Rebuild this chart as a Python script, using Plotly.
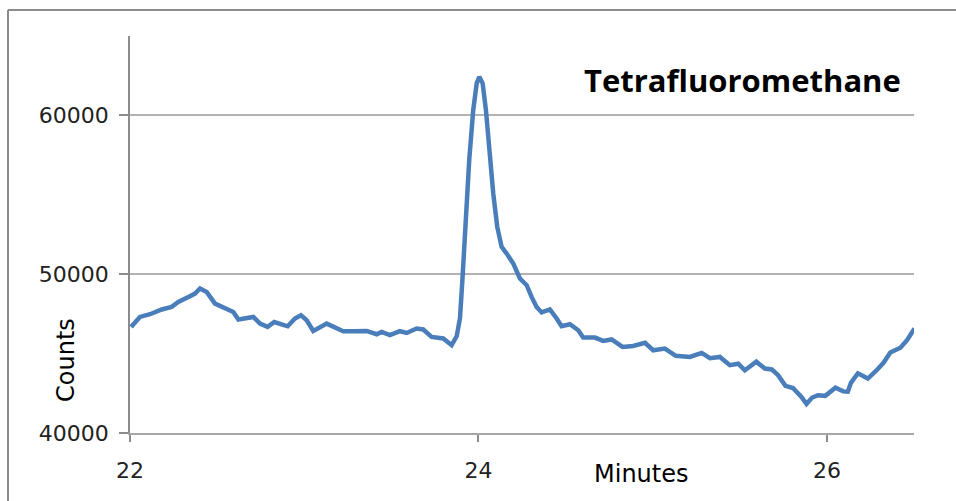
import plotly.graph_objects as go

minutes = [22.006, 22.057, 22.115, 22.182, 22.239, 22.277, 22.344, 22.373, 22.402, 22.440,
           22.488, 22.545, 22.593, 22.622, 22.708, 22.746, 22.790, 22.828, 22.905, 22.947,
           22.981, 23.014, 23.052, 23.129, 23.167, 23.224, 23.281, 23.358, 23.416, 23.444,
           23.492, 23.549, 23.588, 23.645, 23.683, 23.731, 23.798, 23.846, 23.875, 23.894,
           23.909, 23.928, 23.947, 23.970, 23.990, 24.005, 24.024, 24.043, 24.062, 24.085,
           24.108, 24.133, 24.162, 24.200, 24.238, 24.277, 24.305, 24.334, 24.363, 24.410,
           24.449, 24.477, 24.525, 24.573, 24.601, 24.669, 24.716, 24.764, 24.827, 24.888,
           24.956, 25.003, 25.070, 25.133, 25.214, 25.281, 25.329, 25.386, 25.443, 25.491,
           25.529, 25.595, 25.644, 25.684, 25.720, 25.762, 25.805, 25.854, 25.883, 25.914,
           25.948, 25.991, 26.049, 26.094, 26.120, 26.138, 26.178, 26.235, 26.283, 26.325,
           26.364, 26.422, 26.460, 26.503]

counts = [46680, 47310, 47480, 47780, 47940, 48250, 48610, 48780, 49100, 48880,
          48150, 47900, 47620, 47150, 47310, 46890, 46680, 46990, 46720, 47210,
          47420, 47100, 46430, 46890, 46680, 46410, 46410, 46430, 46220, 46360,
          46160, 46410, 46300, 46580, 46520, 46050, 45950, 45530, 46090, 47230,
          49830, 54030, 57180, 60330, 62020, 62430, 62020, 60330, 57810, 55080,
          52980, 51720, 51300, 50670, 49730, 49310, 48570, 47940, 47590, 47780,
          47210, 46720, 46850, 46470, 46010, 46010, 45800, 45890, 45420, 45480,
          45680, 45210, 45320, 44860, 44790, 45040, 44710, 44790, 44270, 44360,
          43950, 44490, 44060, 44000, 43640, 42970, 42830, 42270, 41830, 42220,
          42380, 42340, 42850, 42620, 42600, 43160, 43760, 43430, 43920, 44420,
          45070, 45370, 45840, 46580]

x_ticks = [22, 24, 26]
y_ticks = [40000, 50000, 60000]
title_text = "Tetrafluoromethane"
x_label = "Minutes"
y_label = "Counts"

fig = go.Figure()
fig.add_trace(go.Scatter(
    x=minutes, y=counts, mode="lines",
    line=dict(color="#4A7EBB", width=4.5, shape="linear"),
    hoverinfo="skip", showlegend=False,
))

frame_line = dict(color="#8c8c8c", width=2)

fig.update_layout(
    width=956, height=501,
    margin=dict(l=130, r=42, t=36, b=68),
    paper_bgcolor="white", plot_bgcolor="white",
    font=dict(family="DejaVu Sans", color="#222222"),
    xaxis=dict(
        range=[22, 26.5], tickvals=x_ticks, ticktext=[str(v) for v in x_ticks],
        showgrid=False, zeroline=False,
        showline=True, linecolor="#a6a6a6", linewidth=1.5,
        ticks="outside", ticklen=7, tickcolor="#8c8c8c", tickwidth=1.5,
        tickfont=dict(size=22, family="DejaVu Sans", color="#222222"),
        ticklabelstandoff=10,
    ),
    yaxis=dict(
        range=[40000, 65000], tickvals=y_ticks, ticktext=[str(v) for v in y_ticks],
        showgrid=True, gridcolor="#b3b3b3", gridwidth=1.5, zeroline=False,
        showline=True, linecolor="#8c8c8c", linewidth=1.5,
        ticks="outside", ticklen=9, tickcolor="#8c8c8c", tickwidth=1.5,
        tickfont=dict(size=22, family="DejaVu Sans", color="#222222"),
        ticklabelstandoff=6,
    ),
    shapes=[
        dict(type="line", xref="paper", yref="paper",
             x0=-0.1556, x1=1.3, y0=1.0655, y1=1.0655, line=frame_line, layer="below"),
        dict(type="line", xref="paper", yref="paper",
             x0=-0.1556, x1=-0.1556, y0=-0.4, y1=1.0655, line=frame_line, layer="below"),
    ],
    annotations=[
        dict(text="<b>" + title_text + "</b>", xref="paper", yref="paper",
             x=0.5765, y=0.889, xanchor="left", yanchor="middle", showarrow=False,
             font=dict(size=31, family="Open Sans", color="black")),
        dict(text=x_label, xref="paper", yref="paper",
             x=0.652, y=-0.103, xanchor="center", yanchor="middle", showarrow=False,
             font=dict(size=24, family="DejaVu Sans", color="black")),
        dict(text=y_label, xref="paper", yref="paper", textangle=-90,
             x=-0.0816, y=0.184, xanchor="center", yanchor="middle", showarrow=False,
             font=dict(size=24, family="DejaVu Sans", color="black")),
    ],
)

fig.write_html(
    "out.html",
    config={"displayModeBar": False},
    post_script="document.body.style.margin='0';document.body.style.overflow='hidden';",
)
